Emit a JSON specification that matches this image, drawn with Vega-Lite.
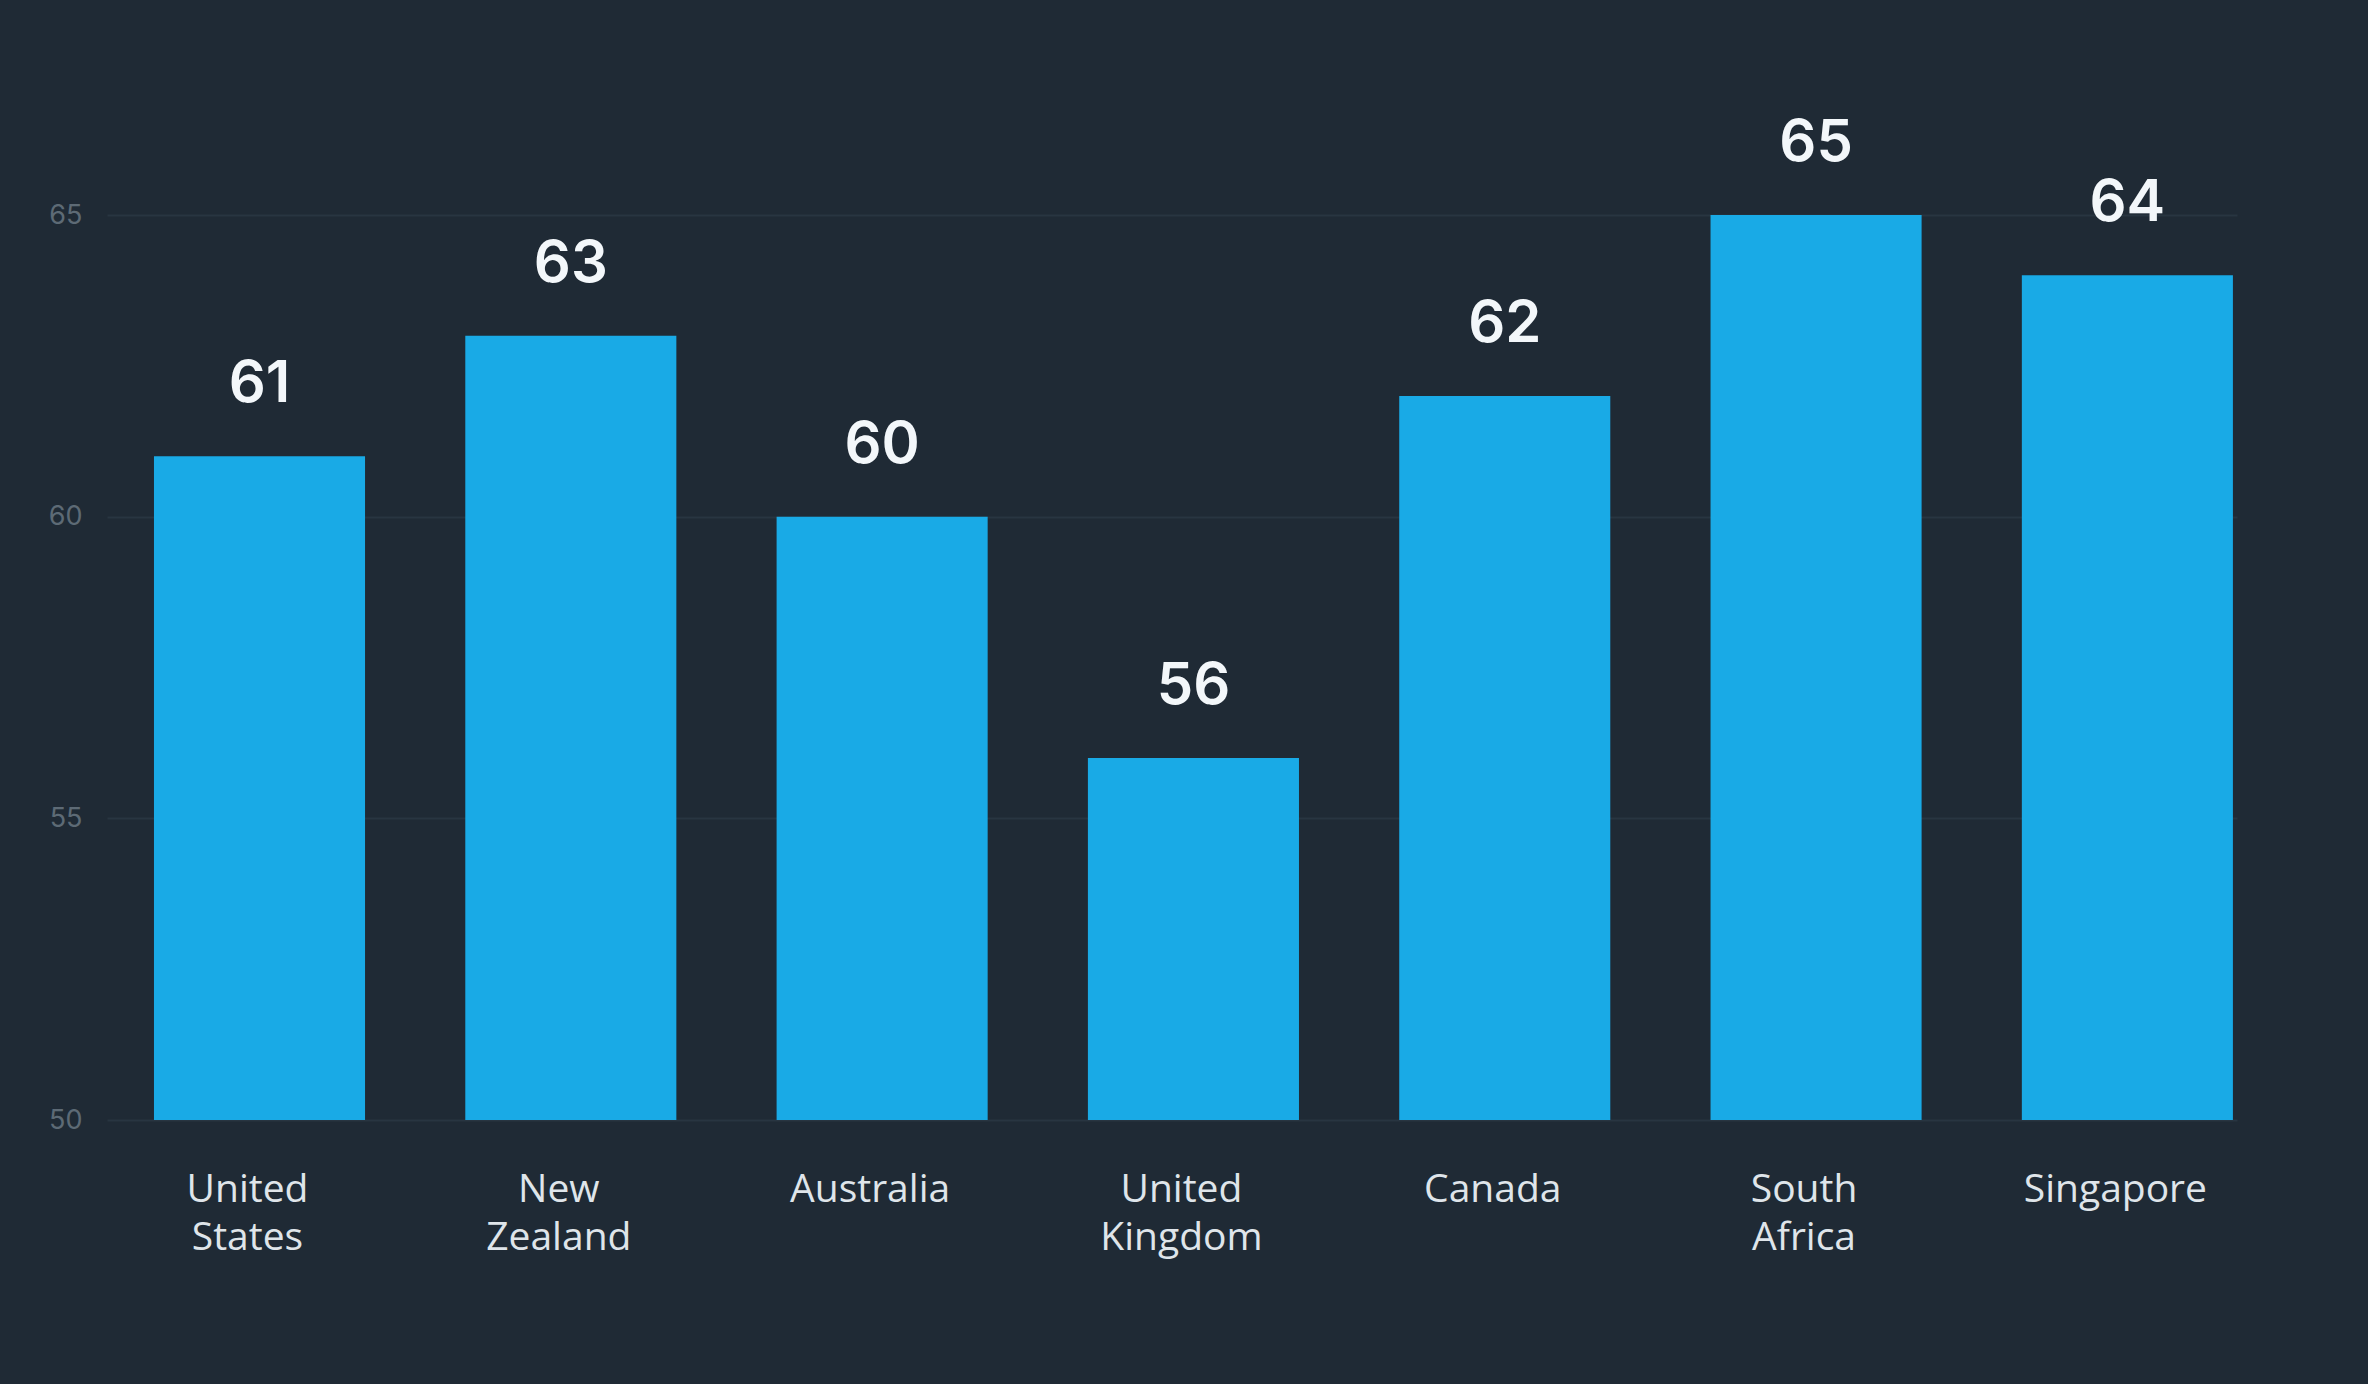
{
  "$schema": "https://vega.github.io/schema/vega-lite/v6.json",
  "autosize": {"type": "none"},
  "width": 2130,
  "height": 905,
  "padding": {"left": 107, "top": 215, "right": 131, "bottom": 264},
  "background": "#1f2a35",
  "config": {
    "view": {"stroke": null},
    "font": "Inter"
  },
  "data": {
    "values": [
      {"country": "United States", "value": 61},
      {"country": "New Zealand", "value": 63},
      {"country": "Australia", "value": 60},
      {"country": "United Kingdom", "value": 56},
      {"country": "Canada", "value": 62},
      {"country": "South Africa", "value": 65},
      {"country": "Singapore", "value": 64}
    ]
  },
  "encoding": {
    "x": {
      "field": "country",
      "type": "nominal",
      "sort": null,
      "title": null,
      "scale": {"paddingInner": 0.322, "paddingOuter": 0.082, "align": 0.92},
      "axis": {
        "domain": false,
        "ticks": false,
        "grid": false,
        "labelAngle": 0,
        "labelExpr": "split(datum.label, ' ')",
        "labelFont": "Open Sans",
        "labelFontSize": 39,
        "labelLineHeight": 48,
        "labelColor": "#dfe5ea",
        "labelPadding": 50,
        "labelOffset": -12,
        "labelBaseline": "top",
        "labelLimit": 500
      }
    },
    "y": {
      "field": "value",
      "type": "quantitative",
      "title": null,
      "scale": {"domain": [50, 65], "zero": false, "nice": false},
      "axis": {
        "values": [50, 55, 60, 65],
        "domain": false,
        "ticks": false,
        "grid": true,
        "gridColor": "#283541",
        "gridWidth": 2,
        "labelFont": "Inter",
        "labelFontSize": 27,
        "labelColor": "#5d6a75",
        "labelPadding": 25
      }
    }
  },
  "layer": [
    {
      "mark": {"type": "bar", "color": "#19aae6"},
      "encoding": {
        "y2": {"datum": 50}
      }
    },
    {
      "mark": {
        "type": "text",
        "baseline": "alphabetic",
        "dy": -54,
        "fontSize": 58,
        "fontWeight": 600,
        "color": "#f3f7fa",
        "font": "Inter"
      },
      "encoding": {
        "text": {"field": "value", "type": "quantitative"}
      }
    }
  ]
}
